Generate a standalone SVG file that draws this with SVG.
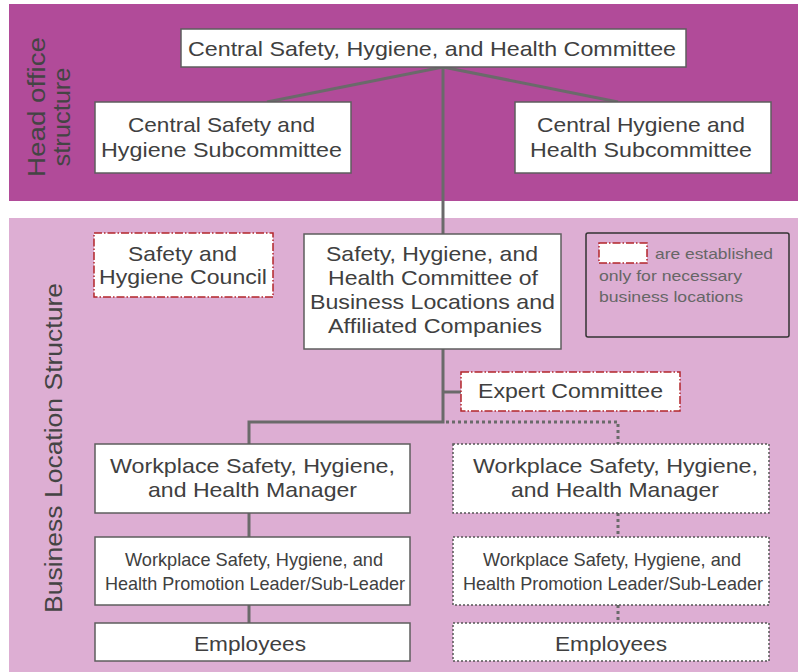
<svg xmlns="http://www.w3.org/2000/svg" width="798" height="672" viewBox="0 0 798 672">
<defs>
<style>
.t{font-family:"Liberation Sans",Arial,sans-serif;fill:#404040;text-anchor:middle}
.n{fill:#fff;stroke:#5e5e5e;stroke-width:1.5}
.d{fill:#fff;stroke:#555;stroke-width:1.5;stroke-dasharray:2 2}
.r{fill:#fff;stroke:#b3262b;stroke-width:1.5;stroke-dasharray:8 2 1.5 2}
.c{fill:none;stroke:#6a6a6a;stroke-width:3}
.cd{fill:none;stroke:#6a6a6a;stroke-width:3;stroke-dasharray:3 3}
.v{font-family:"Liberation Sans",Arial,sans-serif;fill:#444;text-anchor:middle;font-size:23px}
</style>
</defs>
<rect x="9" y="4" width="789" height="197" fill="#b14b99"/>
<rect x="9" y="218" width="789" height="454" fill="#ddaed3"/>
<g id="bands-labels">
<text class="v" transform="translate(45,107) rotate(-90)" textLength="140" lengthAdjust="spacingAndGlyphs">Head office</text>
<text class="v" transform="translate(70,117) rotate(-90)" textLength="99" lengthAdjust="spacingAndGlyphs">structure</text>
<text class="v" transform="translate(62,448) rotate(-90)" textLength="330" lengthAdjust="spacingAndGlyphs">Business Location Structure</text>
</g>
<g id="connectors">
<polyline class="c" points="267,102 443,67 618,102"/>
<line class="c" x1="443" y1="67" x2="443" y2="234"/>
<polyline class="c" points="443,349 443,422 249,422 249,444"/>
<line class="c" x1="443" y1="392" x2="461" y2="392"/>
<line class="c" x1="249" y1="513" x2="249" y2="537"/>
<line class="c" x1="249" y1="605" x2="249" y2="623"/>
<polyline class="cd" points="446,422 618,422 618,444"/>
<line class="cd" x1="618" y1="513" x2="618" y2="537"/>
<line class="cd" x1="618" y1="605" x2="618" y2="623"/>
</g>
<g id="central-committee">
<rect class="n" x="181" y="29" width="505" height="38"/>
<text class="t" x="432" y="56" font-size="21" textLength="488" lengthAdjust="spacingAndGlyphs">Central Safety, Hygiene, and Health Committee</text>
</g>
<g id="central-safety-sub">
<rect class="n" x="95" y="102" width="256" height="71"/>
<text class="t" x="221.5" y="132" font-size="21" textLength="187" lengthAdjust="spacingAndGlyphs">Central Safety and</text>
<text class="t" x="221.5" y="157" font-size="21" textLength="241" lengthAdjust="spacingAndGlyphs">Hygiene Subcommittee</text>
</g>
<g id="central-hygiene-sub">
<rect class="n" x="515" y="102" width="256" height="71"/>
<text class="t" x="641" y="132" font-size="21" textLength="208" lengthAdjust="spacingAndGlyphs">Central Hygiene and</text>
<text class="t" x="641" y="157" font-size="21" textLength="222" lengthAdjust="spacingAndGlyphs">Health Subcommittee</text>
</g>
<g id="council">
<rect class="r" x="94" y="233" width="179" height="64"/>
<text class="t" x="182.5" y="261" font-size="21" textLength="109" lengthAdjust="spacingAndGlyphs">Safety and</text>
<text class="t" x="183" y="284" font-size="21" textLength="168" lengthAdjust="spacingAndGlyphs">Hygiene Council</text>
</g>
<g id="business-committee">
<rect class="n" x="304" y="234" width="257" height="115"/>
<text class="t" x="432" y="261" font-size="21" textLength="212" lengthAdjust="spacingAndGlyphs">Safety, Hygiene, and</text>
<text class="t" x="433" y="285" font-size="21" textLength="210" lengthAdjust="spacingAndGlyphs">Health Committee of</text>
<text class="t" x="432.5" y="309" font-size="21" textLength="245" lengthAdjust="spacingAndGlyphs">Business Locations and</text>
<text class="t" x="435" y="333" font-size="21" textLength="214" lengthAdjust="spacingAndGlyphs">Affiliated Companies</text>
</g>
<g id="legend">
<rect x="586" y="233" width="203" height="104" rx="2" fill="none" stroke="#333" stroke-width="1.5"/>
<rect class="r" x="599" y="243" width="48" height="20"/>
<text x="655" y="259" font-family="Liberation Sans, Arial, sans-serif" font-size="15" fill="#666" textLength="118" lengthAdjust="spacingAndGlyphs">are established</text>
<text x="599" y="281" font-family="Liberation Sans, Arial, sans-serif" font-size="15" fill="#666" textLength="143" lengthAdjust="spacingAndGlyphs">only for necessary</text>
<text x="599" y="302" font-family="Liberation Sans, Arial, sans-serif" font-size="15" fill="#666" textLength="144" lengthAdjust="spacingAndGlyphs">business locations</text>
</g>
<g id="expert-committee">
<rect class="r" x="461" y="372" width="219" height="39"/>
<text class="t" x="570.5" y="398" font-size="21" textLength="185" lengthAdjust="spacingAndGlyphs">Expert Committee</text>
</g>
<g id="manager-left">
<rect class="n" x="95" y="444" width="315" height="69"/>
<text class="t" x="252.5" y="473" font-size="21" textLength="285" lengthAdjust="spacingAndGlyphs">Workplace Safety, Hygiene,</text>
<text class="t" x="252.5" y="497" font-size="21" textLength="209" lengthAdjust="spacingAndGlyphs">and Health Manager</text>
</g>
<g id="leader-left">
<rect class="n" x="95" y="537" width="315" height="68"/>
<text class="t" x="254" y="566" font-size="18.5" textLength="258" lengthAdjust="spacingAndGlyphs">Workplace Safety, Hygiene, and</text>
<text class="t" x="255" y="590" font-size="18.5" textLength="300" lengthAdjust="spacingAndGlyphs">Health Promotion Leader/Sub-Leader</text>
</g>
<g id="employees-left">
<rect class="n" x="95" y="623" width="315" height="38"/>
<text class="t" x="250" y="651" font-size="21" textLength="112" lengthAdjust="spacingAndGlyphs">Employees</text>
</g>
<g id="manager-right">
<rect class="d" x="453" y="444" width="316" height="69"/>
<text class="t" x="615.5" y="473" font-size="21" textLength="285" lengthAdjust="spacingAndGlyphs">Workplace Safety, Hygiene,</text>
<text class="t" x="615" y="497" font-size="21" textLength="208" lengthAdjust="spacingAndGlyphs">and Health Manager</text>
</g>
<g id="leader-right">
<rect class="d" x="453" y="537" width="316" height="68"/>
<text class="t" x="612" y="566" font-size="18.5" textLength="258" lengthAdjust="spacingAndGlyphs">Workplace Safety, Hygiene, and</text>
<text class="t" x="613" y="590" font-size="18.5" textLength="300" lengthAdjust="spacingAndGlyphs">Health Promotion Leader/Sub-Leader</text>
</g>
<g id="employees-right">
<rect class="d" x="453" y="623" width="316" height="38"/>
<text class="t" x="611" y="651" font-size="21" textLength="112" lengthAdjust="spacingAndGlyphs">Employees</text>
</g>
</svg>
